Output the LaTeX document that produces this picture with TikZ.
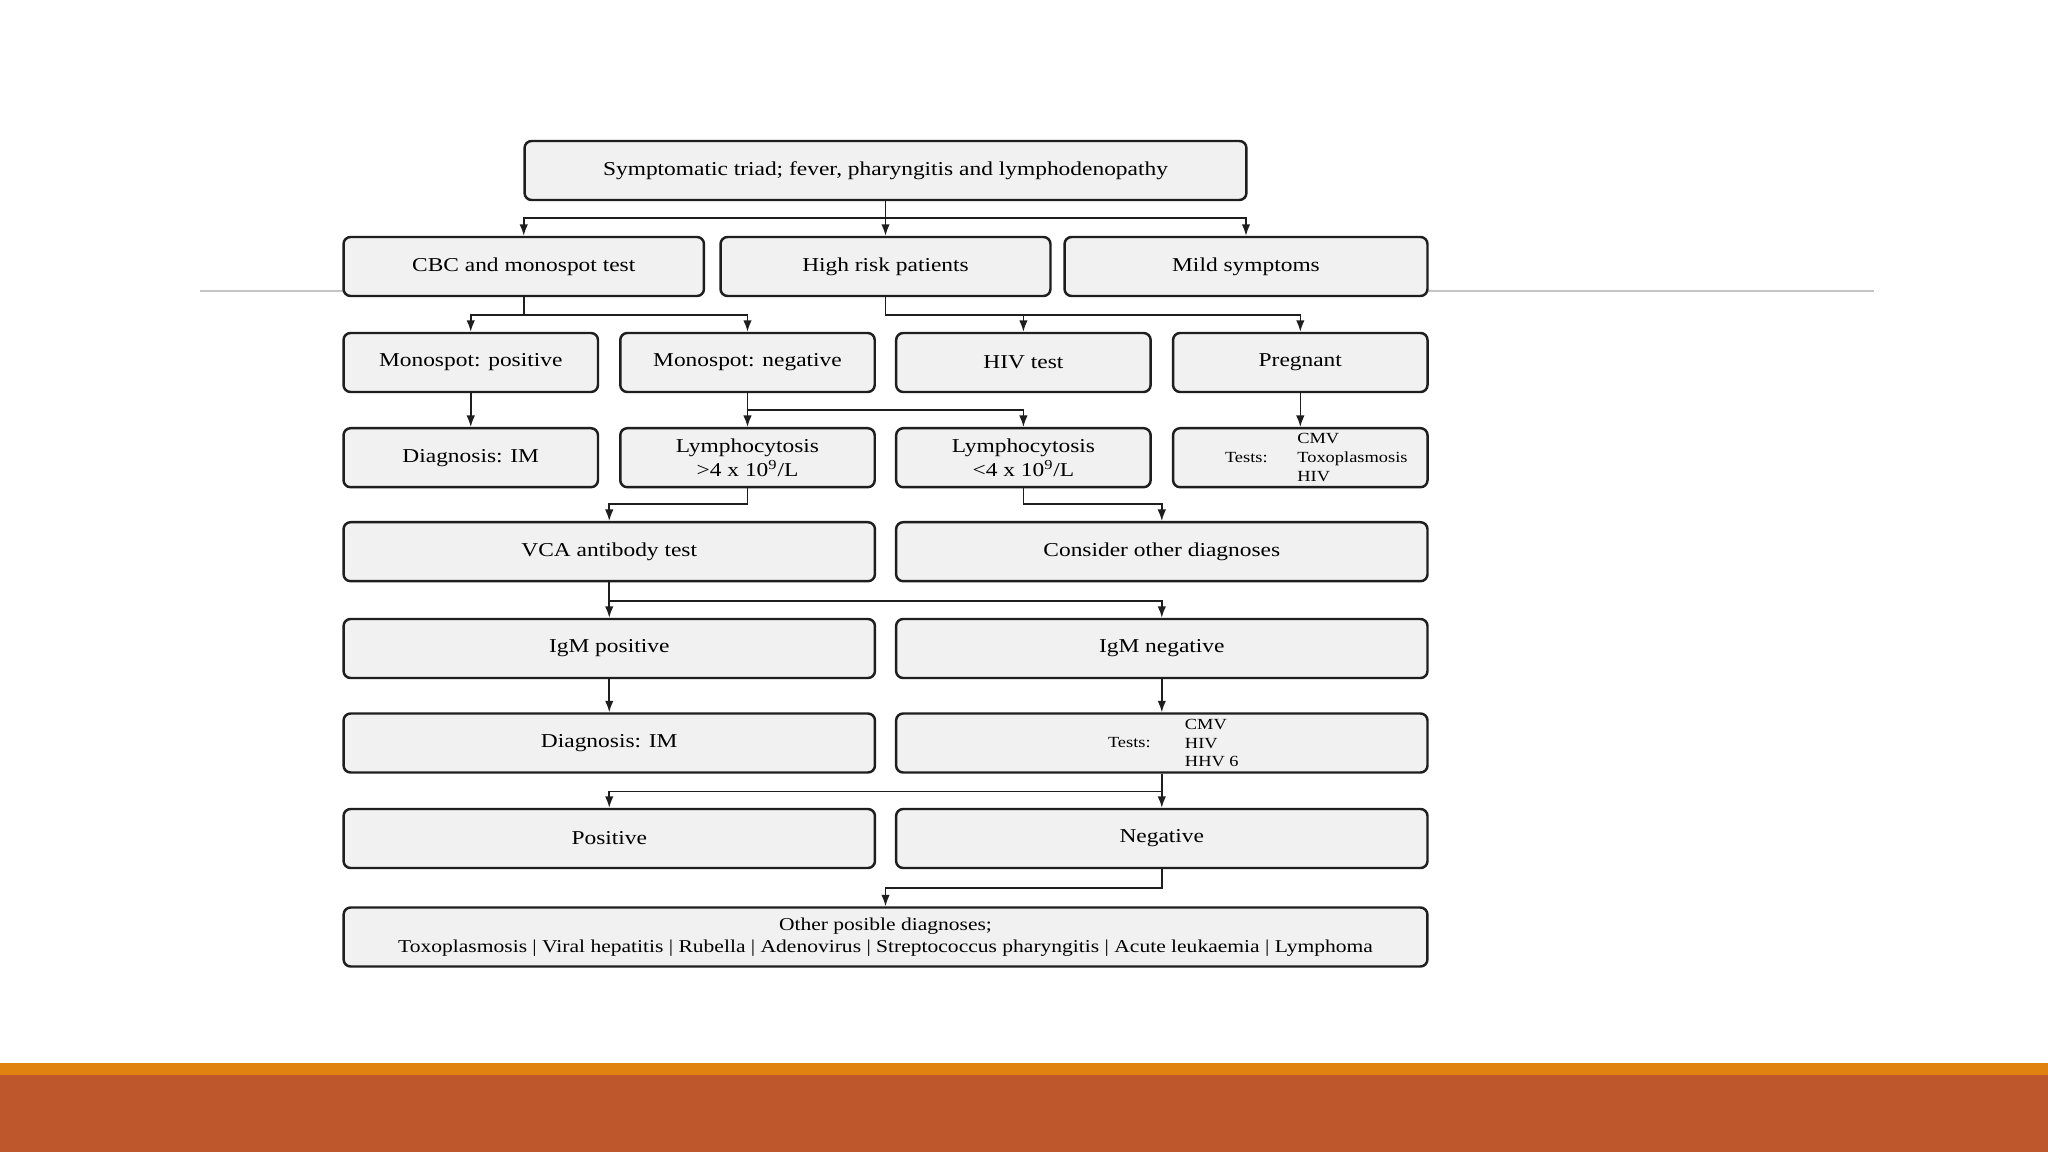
\documentclass[tikz,border=0pt]{standalone}
\usepackage{fontspec}
\setmainfont{Liberation Serif}[FakeStretch=1.19]
\usetikzlibrary{arrows.meta}
\definecolor{boxfill}{HTML}{F1F1F1}
\definecolor{boxline}{HTML}{1E1E1E}
\definecolor{slideorange}{HTML}{E0820F}
\definecolor{slidered}{HTML}{BE572B}
\definecolor{rulegrey}{HTML}{C4C4C4}

\begin{document}
\begin{tikzpicture}[x=0.02cm, y=-0.02cm,
  box/.style={draw=boxline, line width=1.4pt, fill=boxfill, rounded corners=0.14cm,
    minimum height=1.18cm, inner sep=2pt, align=center, font=\fontsize{11.2}{13.4}\selectfont},
  colbox/.style={box, minimum width=5.09cm},
  halfbox/.style={box, minimum width=10.63cm},
  conn/.style={draw=boxline, line width=0.9pt},
  testfont/.style={inner sep=0pt, align=left, font=\fontsize{8.8}{10.8}\selectfont},
  >={Latex[length=0.23cm,width=0.17cm]}]
%\draw[help lines] (0,0) grid[step=100] (2048,1152);
\fill[white] (0,0) rectangle (2048,1152);
\useasboundingbox (0,0) rectangle (2048,1152);
\fill[slideorange] (0,1063) rectangle (2048,1075);
\fill[slidered] (0,1075) rectangle (2048,1152);
\draw[rulegrey, line width=0.6pt] (200,291) -- (343,291) (1428,291) -- (1874,291);

\node[box, minimum width=14.44cm] (triad) at (885.5,170.5) {Symptomatic triad; fever, pharyngitis and lymphodenopathy};
\node[box, minimum width=7.21cm] (cbc) at (523.75,266.5) {CBC and monospot test};
\node[box, minimum width=6.6cm] (high) at (885.5,266.5) {High risk patients};
\node[box, minimum width=7.26cm] (mild) at (1246,266.5) {Mild symptoms};

\node[colbox] (mpos) at (470.75,362.5) {Monospot: positive};
\node[colbox] (mneg) at (747.5,362.5) {Monospot: negative};
\node[colbox] (hiv) at (1023.4,362.5) {HIV test};
\node[colbox] (preg) at (1300.3,362.5) {Pregnant};

\node[colbox] (diag1) at (470.75,457.7) {Diagnosis: IM};
\node[colbox] (lymhi) at (747.5,457.7) {Lymphocytosis\\>4 x 10\textsuperscript{9}/L};
\node[colbox] (lymlo) at (1023.4,457.7) {Lymphocytosis\\<4 x 10\textsuperscript{9}/L};
\node[colbox] (ptests) at (1300.3,457.7) {};
\node[testfont, anchor=east] (ptestslbl) at (1268,457.7) {Tests:};
\node[testfont, anchor=west] (ptestslist) at (1297,457.7) {CMV\\Toxoplasmosis\\HIV};

\node[halfbox] (vca) at (609.25,551.7) {VCA antibody test};
\node[halfbox] (other) at (1161.8,551.7) {Consider other diagnoses};
\node[halfbox] (igmpos) at (609.25,648.5) {IgM positive};
\node[halfbox] (igmneg) at (1161.8,648.5) {IgM negative};
\node[halfbox] (diag2) at (609.25,743) {Diagnosis: IM};
\node[halfbox] (ntests) at (1161.8,743) {};
\node[testfont, anchor=east] (ntestslbl) at (1151,743) {Tests:};
\node[testfont, anchor=west] (ntestslist) at (1184.6,743) {CMV\\HIV\\HHV 6};
\node[halfbox] (pos) at (609.25,838.5) {Positive};
\node[halfbox] (neg) at (1161.8,838.5) {Negative};

\node[box, minimum width=21.68cm, font=\fontsize{10.3}{12.6}\selectfont] (final) at (885.5,937) {Other posible diagnoses;\\Toxoplasmosis | Viral hepatitis | Rubella | Adenovirus | Streptococcus pharyngitis | Acute leukaemia | Lymphoma};

% junctions
\coordinate (bar1) at (885.5,218);
\coordinate (bar2) at (523.75,315);
\coordinate (bar3) at (885.5,315);
\coordinate (bar4) at (747.5,410);
\coordinate (bar5) at (747.5,504);
\coordinate (bar6) at (1023.4,504);
\coordinate (bar7) at (609.25,601);
\coordinate (bar8) at (1161.8,791.5);
\coordinate (bar9) at (1161.8,888);

\draw[conn, ->] (triad.south) -- (high.north);
\draw[conn, ->] (bar1) -| (cbc.north);
\draw[conn, ->] (bar1) -| (mild.north);
\draw[conn, ->] (cbc.south) -- (bar2) -| (mpos.north);
\draw[conn, ->] (bar2) -| (mneg.north);
\draw[conn, ->] (high.south) -- (bar3) -| (hiv.north);
\draw[conn, ->] (bar3) -| (preg.north);
\draw[conn, ->] (mpos) -- (diag1);
\draw[conn, ->] (mneg.south) -- (lymhi.north);
\draw[conn, ->] (bar4) -| (lymlo.north);
\draw[conn, ->] (preg) -- (ptests);
\draw[conn, ->] (lymhi.south) -- (bar5) -| (vca.north);
\draw[conn, ->] (lymlo.south) -- (bar6) -| (other.north);
\draw[conn, ->] (vca.south) -- (igmpos.north);
\draw[conn, ->] (bar7) -| (igmneg.north);
\draw[conn, ->] (igmpos) -- (diag2);
\draw[conn, ->] (igmneg) -- (ntests);
\draw[conn, ->] (ntests.south) -- (neg.north);
\draw[conn, ->] (bar8) -| (pos.north);
\draw[conn, ->] (neg.south) -- (bar9) -| (final.north);
\end{tikzpicture}
\end{document}
